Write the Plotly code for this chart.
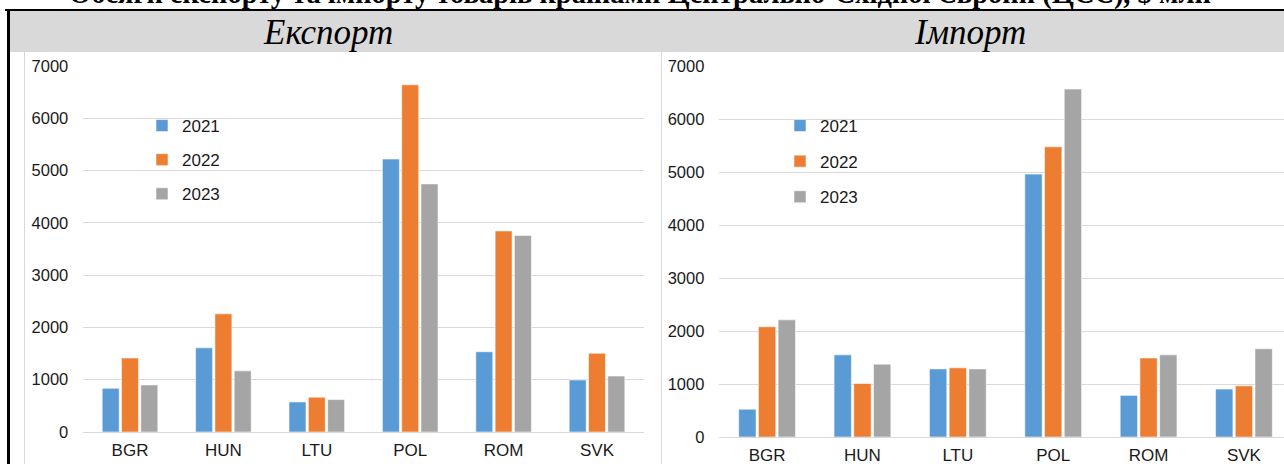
import plotly.graph_objects as go

# ---- data ----
categories = ["BGR", "HUN", "LTU", "POL", "ROM", "SVK"]
years = ["2021", "2022", "2023"]
export_2021 = [835, 1610, 575, 5220, 1535, 995]
export_2022 = [1415, 2260, 665, 6640, 3845, 1505]
export_2023 = [900, 1170, 620, 4745, 3760, 1070]
import_2021 = [525, 1550, 1285, 4960, 785, 905]
import_2022 = [2080, 1010, 1305, 5475, 1490, 965]
import_2023 = [2210, 1375, 1285, 6565, 1550, 1665]
panel_titles = ["Експорт", "Імпорт"]
top_title = "Обсяги експорту та імпорту товарів країнами Центрально-Східної Європи (ЦСЄ), $ млн"
y_ticks = [0, 1000, 2000, 3000, 4000, 5000, 6000, 7000]

W, H = 1284, 464
def px_x(x):
    return x / W
def px_y(y):
    return 1 - y / H

colors = {"2021": "#5b9bd5", "2022": "#ed7d31", "2023": "#a5a5a5"}
edge = "rgba(255,255,255,0.55)"

fig = go.Figure()
for yr, vals in zip(years, [export_2021, export_2022, export_2023]):
    fig.add_trace(go.Bar(
        x=categories, y=vals, name=yr,
        marker=dict(color=colors[yr], line=dict(color=edge, width=1)),
        xaxis="x", yaxis="y", legend="legend", legendgroup="e" + yr,
        hoverinfo="x+y+name"))
for yr, vals in zip(years, [import_2021, import_2022, import_2023]):
    fig.add_trace(go.Bar(
        x=categories, y=vals, name=yr,
        marker=dict(color=colors[yr], line=dict(color=edge, width=1)),
        xaxis="x2", yaxis="y2", legend="legend2", legendgroup="i" + yr,
        hoverinfo="x+y+name"))

tick_font = dict(family="Liberation Sans, Arial, sans-serif", size=16.5, color="#1a1a1a")
cat_font = dict(family="Liberation Sans, Arial, sans-serif", size=17, color="#1a1a1a")
grid = "#d9d9d9"

common_y = dict(range=[0, 7000], tickvals=y_ticks, showgrid=True, gridcolor=grid,
                gridwidth=1, zeroline=True, zerolinecolor=grid, zerolinewidth=1,
                showline=False, ticks="", tickfont=tick_font, ticklabelstandoff=14,
                fixedrange=True, automargin=False)
common_x = dict(showgrid=False, showline=False, ticks="", tickfont=cat_font,
                ticklabelstandoff=6, zeroline=False, fixedrange=True, type="category",
                automargin=False)

leg_common = dict(xanchor="left", yanchor="top", bgcolor="rgba(0,0,0,0)",
                  font=dict(family="Liberation Sans, Arial, sans-serif", size=17, color="#1a1a1a"),
                  borderwidth=0, traceorder="grouped")

fig.update_layout(
    width=W, height=H,
    margin=dict(l=0, r=0, t=0, b=0, pad=0, autoexpand=False),
    paper_bgcolor="white", plot_bgcolor="white",
    barmode="group", bargap=0.38, bargroupgap=0.12,
    showlegend=True,
    xaxis=dict(domain=[px_x(83.3), px_x(643.7)], anchor="y", range=[-0.5, 5.5], **common_x),
    yaxis=dict(domain=[px_y(432), px_y(66)], anchor="x", **common_y),
    xaxis2=dict(domain=[px_x(719.4), 1.0], anchor="y2", range=[-0.5, 5.42], **common_x),
    yaxis2=dict(domain=[px_y(437), px_y(66)], anchor="x2", **common_y),
    legend=dict(x=px_x(142), y=px_y(108), tracegroupgap=9, **leg_common),
    legend2=dict(x=px_x(780), y=px_y(108), tracegroupgap=10.5, **leg_common),
)

shapes = [
    # header band
    dict(type="rect", xref="paper", yref="paper", x0=px_x(10), x1=1, y0=px_y(52), y1=px_y(11),
         fillcolor="#d9d9d9", line=dict(width=0), layer="below"),
    # top black border
    dict(type="line", xref="paper", yref="paper", x0=px_x(5), x1=1, y0=px_y(10), y1=px_y(10),
         line=dict(color="black", width=2)),
    # left black border
    dict(type="line", xref="paper", yref="paper", x0=px_x(8.5), x1=px_x(8.5), y0=px_y(9), y1=0,
         line=dict(color="black", width=3)),
    # chart object borders
    dict(type="line", xref="paper", yref="paper", x0=px_x(24.5), x1=px_x(24.5), y0=px_y(52), y1=0,
         line=dict(color=grid, width=1)),
    dict(type="line", xref="paper", yref="paper", x0=px_x(661.5), x1=px_x(661.5), y0=px_y(52), y1=0,
         line=dict(color=grid, width=1)),
]
fig.update_layout(shapes=shapes)

annotations = [
    dict(text="<i>" + panel_titles[0] + "</i>", xref="paper", yref="paper", x=px_x(328), y=px_y(32),
         xanchor="center", yanchor="middle", showarrow=False,
         font=dict(family="Liberation Serif, Times New Roman, serif", size=35, color="black")),
    dict(text="<i>" + panel_titles[1] + "</i>", xref="paper", yref="paper", x=px_x(970), y=px_y(32),
         xanchor="center", yanchor="middle", showarrow=False,
         font=dict(family="Liberation Serif, Times New Roman, serif", size=35, color="black")),
    dict(text="<b>" + top_title + "</b>", xref="paper", yref="paper", x=px_x(640), y=px_y(12),
         xanchor="center", yanchor="bottom", showarrow=False,
         font=dict(family="Liberation Serif, Times New Roman, serif", size=28.5, color="black")),
]
fig.update_layout(annotations=annotations)

css_fix = (
    "var s='margin:0;padding:0;overflow:hidden;width:1284px;height:464px;';"
    "document.documentElement.style.cssText=s;"
    "document.body.style.cssText=s;"
)

fig.write_html(
    "out.html",
    config={"displayModeBar": False},
    post_script=css_fix,
)
